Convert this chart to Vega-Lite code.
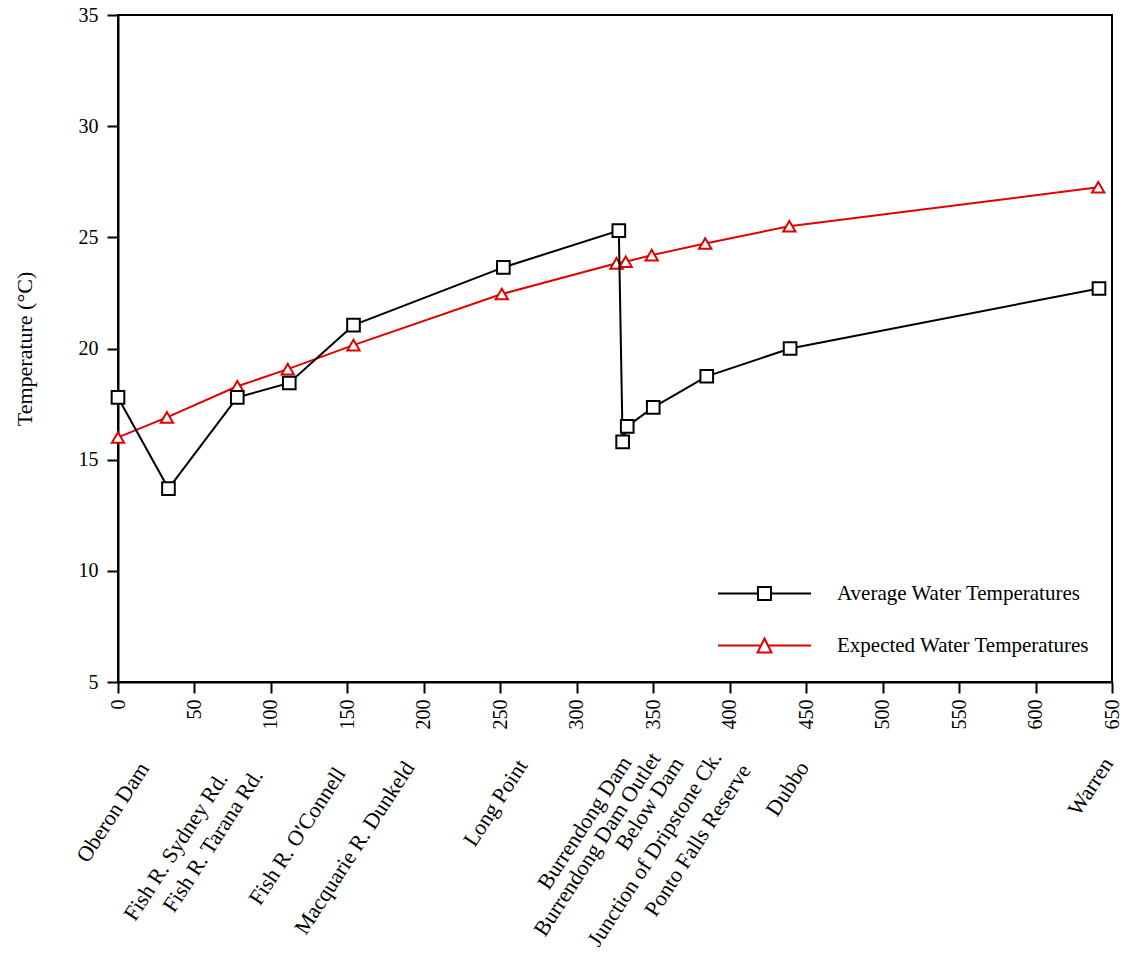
{
  "$schema": "https://vega.github.io/schema/vega-lite/v6.json",
  "width": 994,
  "height": 667,
  "autosize": {"type": "none"},
  "padding": {"left": 118, "top": 15, "right": 17, "bottom": 276},
  "background": "white",
  "config": {
    "view": {"stroke": "black", "strokeWidth": 2},
    "font": "Liberation Serif",
    "axis": {
      "grid": false,
      "domainColor": "black",
      "domainWidth": 2,
      "tickColor": "black",
      "tickWidth": 2,
      "tickSize": 11,
      "labelColor": "black",
      "labelFont": "Liberation Serif",
      "labelFontSize": 20,
      "titleFont": "Liberation Serif",
      "titleFontWeight": "normal",
      "titleColor": "black"
    },
    "legend": {
      "orient": "none",
      "legendX": 636,
      "legendY": 568,
      "padding": 0,
      "rowPadding": 29,
      "labelOffset": 62,
      "symbolSize": 225,
      "labelFontSize": 21,
      "labelFont": "Liberation Serif",
      "labelColor": "black",
      "labelLimit": 0,
      "symbolStrokeWidth": 2
    }
  },
  "datasets": {
    "temps": [
      {"series": "Average Water Temperatures", "km": 0, "temp": 17.8},
      {"series": "Average Water Temperatures", "km": 33, "temp": 13.7},
      {"series": "Average Water Temperatures", "km": 78, "temp": 17.8},
      {"series": "Average Water Temperatures", "km": 112, "temp": 18.45},
      {"series": "Average Water Temperatures", "km": 154, "temp": 21.05},
      {"series": "Average Water Temperatures", "km": 252, "temp": 23.65},
      {"series": "Average Water Temperatures", "km": 327.5, "temp": 25.3},
      {"series": "Average Water Temperatures", "km": 330, "temp": 15.8},
      {"series": "Average Water Temperatures", "km": 333, "temp": 16.5},
      {"series": "Average Water Temperatures", "km": 350, "temp": 17.35},
      {"series": "Average Water Temperatures", "km": 385, "temp": 18.75},
      {"series": "Average Water Temperatures", "km": 439.5, "temp": 20.0},
      {"series": "Average Water Temperatures", "km": 641.5, "temp": 22.7},
      {"series": "Expected Water Temperatures", "km": 0, "temp": 16.0},
      {"series": "Expected Water Temperatures", "km": 32, "temp": 16.9},
      {"series": "Expected Water Temperatures", "km": 78, "temp": 18.3},
      {"series": "Expected Water Temperatures", "km": 111, "temp": 19.07},
      {"series": "Expected Water Temperatures", "km": 154, "temp": 20.15},
      {"series": "Expected Water Temperatures", "km": 251, "temp": 22.45},
      {"series": "Expected Water Temperatures", "km": 326, "temp": 23.83},
      {"series": "Expected Water Temperatures", "km": 332, "temp": 23.9},
      {"series": "Expected Water Temperatures", "km": 349, "temp": 24.2},
      {"series": "Expected Water Temperatures", "km": 384, "temp": 24.72},
      {"series": "Expected Water Temperatures", "km": 439, "temp": 25.5},
      {"series": "Expected Water Temperatures", "km": 641, "temp": 27.25}
    ],
    "sites": [
      {"site": "Oberon Dam", "labelKm": 17, "labelTemp": 1.29},
      {"site": "Fish R. Sydney Rd.", "labelKm": 68.5, "labelTemp": 0.84},
      {"site": "Fish R. Tarana Rd.", "labelKm": 91.5, "labelTemp": 0.97},
      {"site": "Fish R. O'Connell", "labelKm": 145.5, "labelTemp": 1.06},
      {"site": "Macquarie R. Dunkeld", "labelKm": 190.5, "labelTemp": 1.33},
      {"site": "Long Point", "labelKm": 264.5, "labelTemp": 1.42},
      {"site": "Burrendong Dam", "labelKm": 332.5, "labelTemp": 1.56},
      {"site": "Burrendong Dam Outlet", "labelKm": 351.5, "labelTemp": 1.74},
      {"site": "Below Dam", "labelKm": 366.5, "labelTemp": 1.51},
      {"site": "Junction of Dripstone Ck.", "labelKm": 391.5, "labelTemp": 1.78},
      {"site": "Ponto Falls Reserve", "labelKm": 410.5, "labelTemp": 1.2},
      {"site": "Dubbo", "labelKm": 448.5, "labelTemp": 1.33},
      {"site": "Warren", "labelKm": 647.5, "labelTemp": 1.51}
    ]
  },
  "layer": [
    {
      "data": {"name": "temps"},
      "transform": [{"filter": "datum.series === 'Expected Water Temperatures'"}],
      "mark": {"type": "line", "strokeWidth": 2},
      "encoding": {
        "x": {
          "field": "km",
          "type": "quantitative",
          "scale": {"domain": [0, 650], "nice": false, "zero": false},
          "axis": {
            "title": null,
            "values": [0, 50, 100, 150, 200, 250, 300, 350, 400, 450, 500, 550, 600, 650],
            "labelAngle": 270,
            "labelPadding": 6
          }
        },
        "y": {
          "field": "temp",
          "type": "quantitative",
          "scale": {"domain": [5, 35], "nice": false, "zero": false},
          "axis": {
            "title": "Temperature (°C)",
            "titleFontSize": 22,
            "titlePadding": 42,
            "values": [5, 10, 15, 20, 25, 30, 35],
            "labelPadding": 9
          }
        },
        "stroke": {
          "field": "series",
          "type": "nominal",
          "scale": {
            "domain": ["Average Water Temperatures", "Expected Water Temperatures"],
            "range": ["black", "#e00000"]
          },
          "legend": {
            "title": null,
            "encode": {
              "symbols": {
                "update": {
                  "shape": {"signal": "datum.value === 'Average Water Temperatures' ? 'M-6.2,0H-0.87M0.87,0H6.2M-0.87,-0.87H0.87V0.87H-0.87Z' : 'M-6.2,0H-0.47M0.47,0H6.2M0,-0.93L0.93,0.93L-0.93,0.93Z'"},
                  "fill": {"value": "white"},
                  "strokeWidth": {"value": 2},
                  "opacity": {"value": 1}
                }
              }
            }
          }
        }
      }
    },
    {
      "data": {"name": "temps"},
      "transform": [{"filter": "datum.series === 'Expected Water Temperatures'"}],
      "mark": {"type": "point", "shape": "triangle-up", "size": 150, "filled": false, "fill": "white", "fillOpacity": 1, "strokeWidth": 2, "opacity": 1},
      "encoding": {
        "x": {"field": "km", "type": "quantitative"},
        "y": {"field": "temp", "type": "quantitative"},
        "stroke": {"field": "series", "type": "nominal"}
      }
    },
    {
      "data": {"name": "temps"},
      "transform": [{"filter": "datum.series === 'Average Water Temperatures'"}],
      "mark": {"type": "line", "strokeWidth": 2},
      "encoding": {
        "x": {"field": "km", "type": "quantitative"},
        "y": {"field": "temp", "type": "quantitative"},
        "stroke": {"field": "series", "type": "nominal"}
      }
    },
    {
      "data": {"name": "temps"},
      "transform": [{"filter": "datum.series === 'Average Water Temperatures'"}],
      "mark": {"type": "point", "shape": "square", "size": 160, "filled": false, "fill": "white", "fillOpacity": 1, "strokeWidth": 2, "opacity": 1},
      "encoding": {
        "x": {"field": "km", "type": "quantitative"},
        "y": {"field": "temp", "type": "quantitative"},
        "stroke": {"field": "series", "type": "nominal"}
      }
    },
    {
      "data": {"name": "sites"},
      "mark": {"type": "text", "angle": 303, "align": "right", "baseline": "middle", "font": "Liberation Serif", "fontSize": 22, "fill": "black"},
      "encoding": {
        "x": {"field": "labelKm", "type": "quantitative"},
        "y": {"field": "labelTemp", "type": "quantitative"},
        "text": {"field": "site", "type": "nominal"}
      }
    }
  ]
}
